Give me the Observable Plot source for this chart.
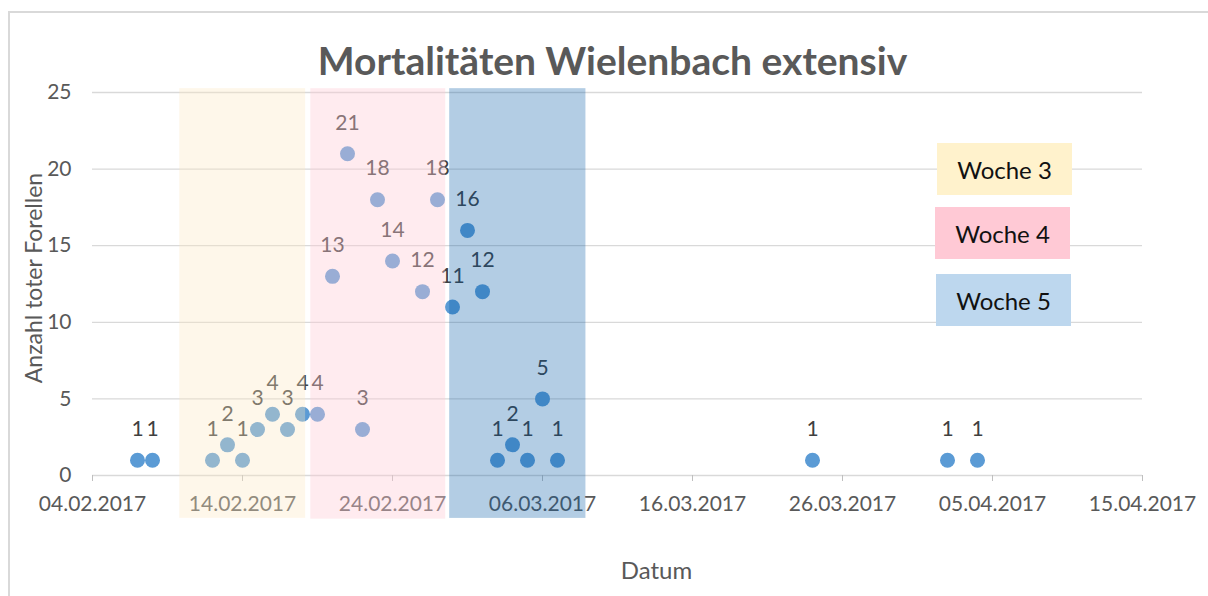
<!DOCTYPE html>
<html>
<head>
<meta charset="utf-8">
<script src="https://cdn.jsdelivr.net/npm/d3@7"></script>
<script src="https://cdn.jsdelivr.net/npm/@observablehq/plot@0.6"></script>
<style>
  html, body { margin: 0; padding: 0; background: #fff; }
  #wrap { position: relative; width: 1208px; height: 596px; overflow: hidden; font-family: Lato, sans-serif; }
  #border { position: absolute; left: 8px; top: 11px; right: -10px; bottom: -10px; border-top: 2px solid #d9d9d9; border-left: 2px solid #d9d9d9; pointer-events: none; }
  .leg { position: absolute; display: flex; align-items: center; justify-content: center; font-size: 24px; color: #111; }
</style>
</head>
<body>
<div id="wrap"><div id="border"></div></div>
<script>
// ---- data ----
const dates = ["2017-02-07","2017-02-08","2017-02-12","2017-02-13","2017-02-14","2017-02-15","2017-02-16","2017-02-17","2017-02-18","2017-02-19","2017-02-20","2017-02-21","2017-02-22","2017-02-23","2017-02-24","2017-02-26","2017-02-27","2017-02-28","2017-03-01","2017-03-02","2017-03-03","2017-03-04","2017-03-05","2017-03-06","2017-03-07","2017-03-24","2017-04-02","2017-04-04"];
const deaths = [1,1,1,2,1,3,4,3,4,4,13,21,3,18,14,12,18,11,16,12,1,2,1,5,1,1,1,1];
const xTicks = ["2017-02-04","2017-02-14","2017-02-24","2017-03-06","2017-03-16","2017-03-26","2017-04-05","2017-04-15"];
const yTicks = [0,5,10,15,20,25];
const weekNames = ["Woche 3","Woche 4","Woche 5"];
const weekStart = ["2017-02-09T19:40Z","2017-02-18T13:20Z","2017-02-27T19:30Z"];
const weekEnd   = ["2017-02-18T05:00Z","2017-02-27T13:10Z","2017-03-08T21:30Z"];
const weekLow = [-2.8,-2.85,-2.8];
const weekHigh = [25.25,25.25,25.25];
const weekFill = ["#fbe7c2","#ffcbd5","#0258a5"];
const weekOpacity = [0.35,0.38,0.30];
const legendColors = ["#fff2cc","#ffc9d5","#bdd7ee"];
const title = "Mortalitäten Wielenbach extensiv";
const xTitle = "Datum";
const yTitle = "Anzahl toter Forellen";

const points = dates.map((d, i) => ({date: new Date(d), n: deaths[i]}));
const weeks = weekNames.map((w, i) => ({name: w, x1: new Date(weekStart[i]), x2: new Date(weekEnd[i]), y1: weekLow[i], y2: weekHigh[i], fill: weekFill[i], op: weekOpacity[i]}));
const fmt = d3.utcFormat("%d.%m.%Y");

const chart = Plot.plot({
  width: 1208, height: 596,
  marginLeft: 92, marginRight: 66, marginTop: 92, marginBottom: 121,
  x: {type: "utc", domain: [new Date(xTicks[0]), new Date(xTicks[xTicks.length - 1])]},
  y: {domain: [0, 25]},
  style: {fontFamily: "Lato, sans-serif", background: "transparent", overflow: "visible"},
  marks: [
    Plot.gridY(yTicks, {stroke: "#d9d9d9", strokeOpacity: 1, strokeWidth: 1.3}),
    Plot.axisX(xTicks.map(d => new Date(d)), {tickFormat: fmt, tickSize: 6, tickPadding: 15, stroke: "#bfbfbf", fill: "#595959", fontSize: 21, label: null}),
    Plot.axisY(yTicks, {tickSize: 0, tickPadding: 21, fill: "#595959", fontSize: 21, label: null}),
    Plot.dot(points, {x: "date", y: "n", r: 7.5, fill: "#5b9bd5"}),
    Plot.text(points, {x: "date", y: "n", text: d => String(d.n), dy: -31, fontSize: 21, fill: "#404040"}),
    ...weeks.map(w => Plot.rect([w], {x1: "x1", x2: "x2", y1: "y1", y2: "y2", fill: w.fill, fillOpacity: w.op})),
    Plot.text([title], {frameAnchor: "top", lineAnchor: "middle", dy: -30, dx: -5, fontSize: 39, fontWeight: "bold", fill: "#595959"}),
    Plot.text([xTitle], {frameAnchor: "bottom", lineAnchor: "middle", dy: 96, dx: 39, fontSize: 24, fill: "#595959"}),
    Plot.text([yTitle], {frameAnchor: "left", textAnchor: "middle", dx: -58, dy: -6, rotate: -90, fontSize: 23, fill: "#595959"})
  ]
});
chart.style.position = "absolute";
chart.style.left = "0px";
chart.style.top = "0px";
const wrap = document.getElementById("wrap");
wrap.appendChild(chart);

// legend boxes (text shapes in the original)
const legPos = [[937,143],[935,207],[936,274]];
weekNames.forEach((w, i) => {
  const el = document.createElement("div");
  el.className = "leg";
  el.textContent = w;
  el.style.left = legPos[i][0] + "px";
  el.style.top = legPos[i][1] + "px";
  el.style.width = "135px";
  el.style.height = "52px";
  el.style.background = legendColors[i];
  wrap.appendChild(el);
});
</script>
</body>
</html>
